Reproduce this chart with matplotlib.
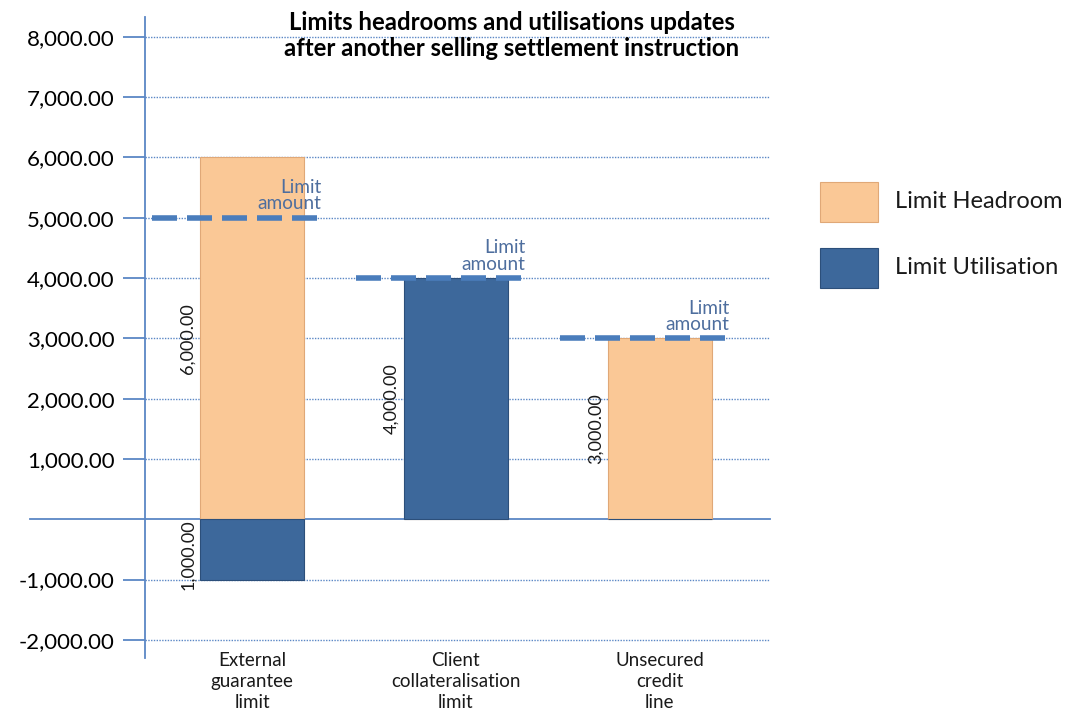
import numpy as np
import matplotlib.pyplot as plt

# data
categories = ['External\nguarantee\nlimit', 'Client\ncollateralisation\nlimit', 'Unsecured\ncredit\nline']
headroom = [6000, 0, 3000]
utilisation = [-1000, 4000, 0]
limits = [5000, 4000, 3000]
value_labels = ['6,000.00', '4,000.00', '3,000.00']
neg_label = '1,000.00'
yticks = [-2000, -1000, 0, 1000, 2000, 3000, 4000, 5000, 6000, 7000, 8000]

peach = '#FAC896'
peach_edge = '#E0A877'
navy = '#3D689B'
navy_edge = '#2C4F7A'
axis_blue = '#5B87C5'
dash_blue = '#4A7DBC'
label_blue = '#4E6E9E'

plt.rcParams['font.family'] = ['Lato', 'DejaVu Sans']

fig = plt.figure(figsize=(10.7, 7.18), dpi=100)
ax = fig.add_axes([0.1355, 0.0836, 0.584, 0.8928])

x = np.arange(len(categories))
w = 0.51

# gridlines
for t in yticks:
    if t != 0:
        ax.axhline(t, color=axis_blue, lw=1, ls=(0, (1, 1)), zorder=0)
# zero line runs out past the axis to the left
ax.plot([-0.184, 1], [0, 0], color=axis_blue, lw=1.3, zorder=1,
        transform=ax.get_yaxis_transform(), clip_on=False)

# bars
ax.bar(x, headroom, w, color=peach, edgecolor=peach_edge, lw=0.8, zorder=2)
ax.bar(x, utilisation, w, color=navy, edgecolor=navy_edge, lw=0.8, zorder=2)

# limit lines and labels
for i, lim in enumerate(limits):
    ax.plot([x[i] - 0.49, x[i] + 0.32], [lim, lim], color=dash_blue, lw=4,
            ls=(0, (4.5, 1.8)), zorder=3, solid_capstyle='butt')
    ax.text(x[i] + 0.34, lim + 90, 'Limit\namount', ha='right', va='bottom',
            fontsize=13.7, color=label_blue, linespacing=0.95, zorder=4)

# value labels
for i in range(len(categories)):
    top = max(headroom[i], utilisation[i])
    ax.text(x[i] - w / 2 - 0.06, top / 2, value_labels[i], rotation=90,
            ha='center', va='center', fontsize=13, color='#1a1a1a')
ax.text(x[0] - w / 2 - 0.06, -580, neg_label, rotation=90,
        ha='center', va='center', fontsize=13, color='#1a1a1a')

ax.set_xlim(-0.525, 2.54)
ax.set_ylim(-2300, 8330)
ax.set_yticks([t for t in yticks if t != 0])
ax.set_yticklabels([f'{t:,.2f}' for t in yticks if t != 0], fontsize=16)
ax.set_xticks([])
for s in ['top', 'right', 'bottom']:
    ax.spines[s].set_visible(False)
ax.spines['left'].set_color(axis_blue)
ax.spines['left'].set_linewidth(1.3)
ax.tick_params(axis='y', direction='out', length=16, width=1.3, color=axis_blue, pad=6)

for i, c in enumerate(categories):
    ax.text(x[i], -2200, c, ha='center', va='top', fontsize=13.5, linespacing=1.3,
            color='#1a1a1a', clip_on=False)

fig.text(0.478, 0.985, 'Limits headrooms and utilisations updates\nafter another selling settlement instruction',
         ha='center', va='top', fontsize=17.2, fontweight='bold', linespacing=1.15)

# legend
lax = fig.add_axes([0, 0, 1, 1], facecolor='none')
lax.set_xlim(0, 1070)
lax.set_ylim(718, 0)
lax.axis('off')
lax.add_patch(plt.Rectangle((820, 182), 58, 40, facecolor=peach, edgecolor=peach_edge, lw=0.8))
lax.add_patch(plt.Rectangle((820, 248), 58, 40, facecolor=navy, edgecolor=navy_edge, lw=0.8))
lax.text(895, 202, 'Limit Headroom', va='center', ha='left', fontsize=17, color='#1a1a1a')
lax.text(895, 268, 'Limit Utilisation', va='center', ha='left', fontsize=17, color='#1a1a1a')

fig.savefig('out.png', dpi=100)
